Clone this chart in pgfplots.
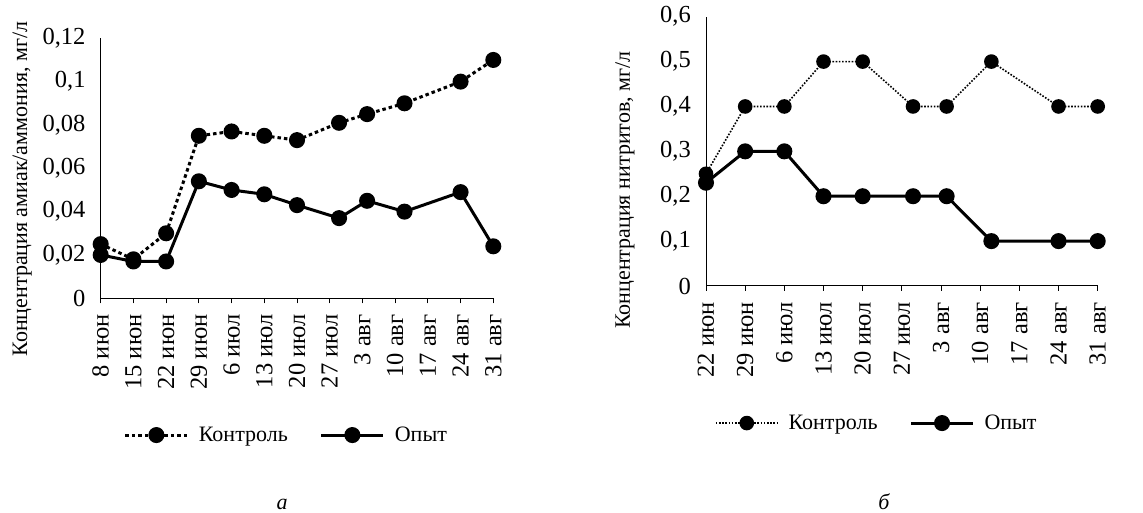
\documentclass[border=0pt]{standalone}
\usepackage{fontspec}
\setmainfont{Liberation Serif}
\usepackage{pgfplots}
\pgfplotsset{compat=1.18}
\begin{document}
\begin{tikzpicture}[font=\fontsize{22}{26}\selectfont]
\useasboundingbox (0pt,0pt) rectangle (1143pt,513pt);
\pgfplotsset{
  myaxis/.style={
    scale only axis,
    axis lines=left,
    axis line style={-, line width=1pt},
    anchor=south west,
    tick align=outside,
    major tick length=5pt,
    ytick style={draw=none},
    xtick style={line width=1pt, black},
    /pgf/number format/assume math mode=true,
    /pgf/number format/use comma,
    /pgf/number format/fixed,
    tick label style={font=\fontsize{24.5}{28}\selectfont},
    yticklabel style={inner sep=0pt, xshift=-10pt},
    xticklabel style={rotate=90, anchor=east, inner sep=0pt},
    xticklabel shift=11pt,
    legend columns=2,
    legend style={draw=none, fill=none, font=\fontsize{22}{26}\selectfont,
      /tikz/every odd column/.append style={column sep=8pt},
      /tikz/every even column/.append style={column sep=30pt}},
    legend image code/.code={\draw[mark repeat=2,mark phase=2,#1] plot coordinates {(0pt,0pt) (31pt,0pt) (62pt,0pt)};},
    clip=false,
  },
  ctrlA/.style={black, line width=3pt, dash pattern=on 3.5pt off 3pt, mark=*, mark size=6.5pt, mark options={solid}},
  ctrlB/.style={black, line width=1.6pt, dash pattern=on 1.6pt off 1.6pt, mark=*, mark size=6.5pt, mark options={solid}},
  opyt/.style={black, line width=3pt, mark=*, mark size=6.5pt, mark options={solid}},
}
% Panel a
\begin{axis}[myaxis,
  at={(100.7pt,214.7pt)},
  width=392.6pt, height=260pt,
  xmin=0, xmax=84, ymin=0, ymax=0.12,
  ytick={0,0.02,0.04,0.06,0.08,0.1,0.12},
  xtick={0,7,14,21,28,35,42,49,56,63,70,77,84},
  xticklabels={8 июн,15 июн,22 июн,29 июн,6 июл,13 июл,20 июл,27 июл,3 авг,10 авг,17 авг,24 авг,31 авг},
  ylabel={Концентрация амиак/аммония, мг/л},
  ylabel style={at={(axis description cs:-0.2,0.42)}, anchor=center, rotate=0},
  legend style={at={(0.473,-0.526)}, anchor=center},
]
\addplot[ctrlA] coordinates {(0,0.025) (7,0.018) (14,0.030) (21,0.075) (28,0.077) (35,0.075) (42,0.073) (51,0.081) (57,0.085) (65,0.090) (77,0.100) (84,0.110)};
\addlegendentry{Контроль}
\addplot[opyt] coordinates {(0,0.020) (7,0.017) (14,0.017) (21,0.054) (28,0.050) (35,0.048) (42,0.043) (51,0.037) (57,0.045) (65,0.040) (77,0.049) (84,0.024)};
\addlegendentry{Опыт}
\end{axis}
% Panel b
\begin{axis}[myaxis,
  at={(706pt,227pt)},
  width=391.7pt, height=269.3pt,
  xmin=0, xmax=70, ymin=0, ymax=0.6,
  ytick={0,0.1,0.2,0.3,0.4,0.5,0.6},
  xtick={0,7,14,21,28,35,42,49,56,63,70},
  xticklabels={22 июн,29 июн,6 июл,13 июл,20 июл,27 июл,3 авг,10 авг,17 авг,24 авг,31 авг},
  ylabel={Концентрация нитритов, мг/л},
  ylabel style={at={(axis description cs:-0.207,0.356)}, anchor=center, rotate=0},
  legend style={at={(0.436,-0.509)}, anchor=center},
]
\addplot[ctrlB] coordinates {(0,0.25) (7,0.4) (14,0.4) (21,0.5) (28,0.5) (37,0.4) (43,0.4) (51,0.5) (63,0.4) (70,0.4)};
\addlegendentry{Контроль}
\addplot[opyt] coordinates {(0,0.23) (7,0.3) (14,0.3) (21,0.2) (28,0.2) (37,0.2) (43,0.2) (51,0.1) (63,0.1) (70,0.1)};
\addlegendentry{Опыт}
\end{axis}
\node[anchor=base, font=\fontsize{22}{26}\selectfont\itshape] at (282pt,3pt) {а};
\node[anchor=base, font=\fontsize{22}{26}\selectfont\itshape] at (884pt,3pt) {б};
\end{tikzpicture}
\end{document}
